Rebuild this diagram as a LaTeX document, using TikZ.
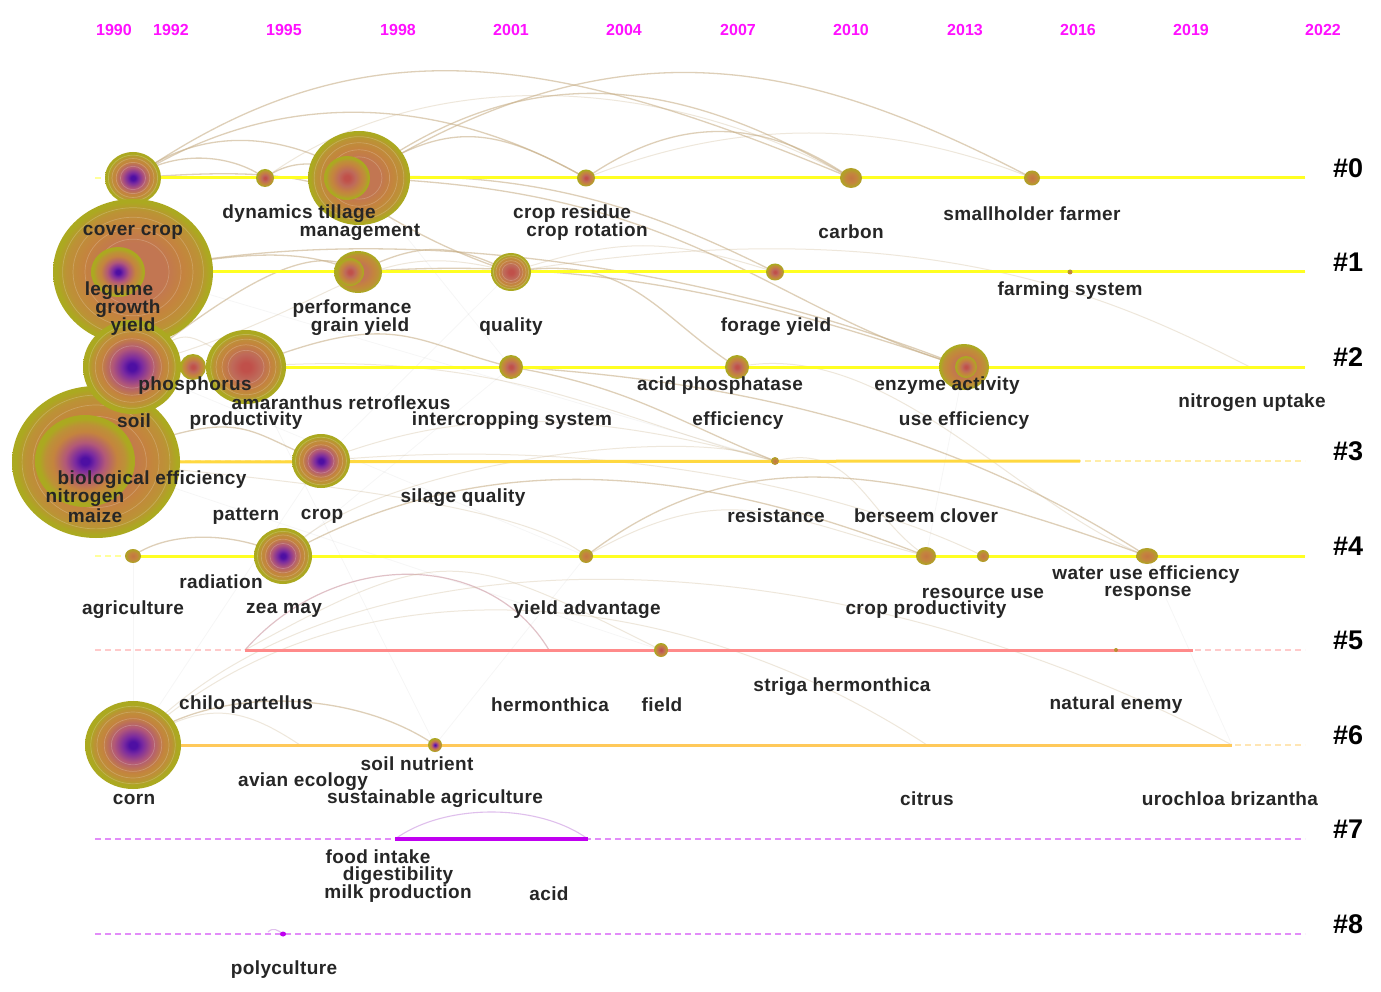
\documentclass[tikz,border=0pt]{standalone}
\usepackage{fontspec}
\setmainfont{Liberation Sans}
\newfontfamily\labfont{Liberation Sans}[LetterSpace=2]
\usetikzlibrary{shapes.geometric}
\definecolor{koli}{HTML}{ABA920}
\definecolor{kora}{HTML}{C4843E}
\definecolor{kbrn}{HTML}{BC9236}
\definecolor{kmau}{HTML}{B25878}
\definecolor{kpur}{HTML}{4E0FA3}
\definecolor{kvp}{HTML}{7A2AA0}
\definecolor{kred}{HTML}{C0504A}
\definecolor{kros}{HTML}{BF6A5A}
\definecolor{kros2}{HTML}{C27652}
\definecolor{kyel}{HTML}{FFFF22}
\definecolor{kgold}{HTML}{FFD840}
\definecolor{korg}{HTML}{FFC95A}
\definecolor{kpink}{HTML}{FF8A8A}
\definecolor{kvio}{HTML}{C000F0}
\definecolor{karc}{HTML}{C8B089}
\definecolor{kparc}{HTML}{D4A8B0}
\definecolor{kvarc}{HTML}{D8B0E8}
\definecolor{ktext}{HTML}{262626}
\definecolor{kmag}{HTML}{FF10FF}
\pgfdeclareradialshading{kwP}{\pgfpoint{0bp}{0bp}}{color(0bp)=(kpur); color(2bp)=(kpur); color(5bp)=(kvp); color(10bp)=(kmau); color(16bp)=(kora); color(20bp)=(kbrn); color(23bp)=(koli); color(25bp)=(koli); color(50bp)=(koli)}
\pgfdeclareradialshading{kwR}{\pgfpoint{0bp}{0bp}}{color(0bp)=(kred); color(3bp)=(kred); color(9bp)=(kros); color(16bp)=(kora); color(20bp)=(kbrn); color(23bp)=(koli); color(25bp)=(koli); color(50bp)=(koli)}
\pgfdeclareradialshading{kwO}{\pgfpoint{0bp}{0bp}}{color(0bp)=(kros2); color(10bp)=(kros2); color(16bp)=(kora); color(21bp)=(kbrn); color(24bp)=(koli); color(25bp)=(koli); color(50bp)=(koli)}
\pgfdeclareradialshading{kwS}{\pgfpoint{0bp}{0bp}}{color(0bp)=(kora!75!kred); color(12bp)=(kora); color(22bp)=(koli!75!kora); color(25bp)=(koli!75!kora); color(50bp)=(koli)}
\newcommand{\kwrings}[3]{\foreach \f in {0.45,0.6,0.75,0.88}{\draw[ringsty] (#1) ellipse ({\f*#2} and {\f*#3});}}
\begin{document}
\begin{tikzpicture}[x=1pt,y=-1pt,
  kn/.style={ellipse, inner sep=0pt, draw=none},
  ringsty/.style={draw=white, opacity=.2, line width=.7pt},
  lab/.style={font=\labfont\bfseries\fontsize{19}{19}\selectfont, text=ktext, inner sep=0pt, yshift=-2pt},
  yr/.style={font=\bfseries\fontsize{16}{16}\selectfont, text=kmag, inner sep=0pt},
  cl/.style={font=\bfseries\fontsize{27}{27}\selectfont, text=black, inner sep=0pt},
  arc/.style={draw=karc, opacity=.6, line width=1.3pt},
  farc/.style={draw=karc, opacity=.3, line width=1pt},
  parc/.style={draw=kparc, opacity=.7, line width=1.2pt},
  varc/.style={draw=kvarc, opacity=.8, line width=1.1pt},
  gl/.style={draw=gray, opacity=.07, line width=.8pt},
  rl/.style={line width=3pt},
  dl/.style={line width=1.2pt, dash pattern=on 6pt off 4pt, opacity=.45}]
\useasboundingbox (0,0) rectangle (1381,992);
\fill[white] (0,0) rectangle (1381,992);

% years
\foreach \x/\y in {114/1990,171/1992,284/1995,398/1998,511/2001,624/2004,738/2007,851/2010,965/2013,1078/2016,1191/2019,1323/2022}
  {\node[yr] (y\y) at (\x,30) {\y};}

% coordinates
\coordinate (r0e) at (1305,178);
\coordinate (r1e) at (1305,272);
\coordinate (r2e) at (1305,367);
\coordinate (r3e) at (1080,461);
\coordinate (r3f) at (1305,461);
\coordinate (r4s) at (95,556);
\coordinate (r4e) at (1305,556);
\coordinate (r5a) at (95,650);
\coordinate (r5s) at (245,650);
\coordinate (r5e) at (1193,650);
\coordinate (r5f) at (1305,650);
\coordinate (r6a) at (95,745);
\coordinate (r6e) at (1232,745);
\coordinate (r6f) at (1305,745);
\coordinate (r7a) at (95,839);
\coordinate (r7s) at (395,839);
\coordinate (r7e) at (588,839);
\coordinate (r7f) at (1305,839);
\coordinate (r8a) at (95,934);
\coordinate (r8f) at (1305,934);
\coordinate (r0a) at (95,178);
\coordinate (r1a) at (95,272);
\coordinate (r2a) at (95,367);
\coordinate (r3a) at (95,461);
\coordinate (c2g) at (1250,367);
\coordinate (c5x) at (549,650);
\coordinate (c6x) at (927,745);
\coordinate (c6y) at (300,745);
\coordinate (c8x) at (268,932);

% node positions
\path
 (133,178) coordinate (p0a) (265,178) coordinate (p0b) (359,178) coordinate (p0c)
 (586,178) coordinate (p0d) (851,178) coordinate (p0e) (1032,178) coordinate (p0f)
 (133,272) coordinate (p1a) (358,272) coordinate (p1b) (511,272) coordinate (p1c)
 (775,272) coordinate (p1d) (1070,272) coordinate (p1e)
 (132,367) coordinate (p2a) (193,367) coordinate (p2b) (246,367) coordinate (p2c)
 (511,367) coordinate (p2d) (737,367) coordinate (p2e) (964,367) coordinate (p2f)
 (96,462) coordinate (p3a) (321,461) coordinate (p3b) (775,461) coordinate (p3c)
 (133,556) coordinate (p4a) (283,556) coordinate (p4b) (586,556) coordinate (p4c)
 (926,556) coordinate (p4d) (983,556) coordinate (p4e) (1147,556) coordinate (p4f)
 (661,650) coordinate (p5a) (1116,650) coordinate (p5b)
 (133,745) coordinate (p6a) (435,745) coordinate (p6b)
 (283,934) coordinate (p8a);

% faint background lines
\draw[gl] (p4a) -- (p6a);
\draw[gl] (p2a) -- (p4c);
\draw[gl] (p3a) -- (p5a);
\draw[gl] (p1a) -- (p3c);
\draw[gl] (p2c) -- (p6b);
\draw[gl] (p4c) -- (p6b);
\draw[gl] (p2d) -- (p4b);
\draw[gl] (p4f) -- (r6e);
\draw[gl] (p2f) -- (p4d);
\draw[gl] (p3b) -- (p6a);
\draw[gl] (p0c) -- (p2d);
\draw[gl] (p1c) -- (p3b);

% dashed row lines
\draw[dl, draw=kyel] (r0a) -- (r0e);
\draw[dl, draw=kyel] (r1a) -- (r1e);
\draw[dl, draw=kyel] (r2a) -- (r2e);
\draw[dl, draw=kgold] (r3a) -- (r3f);
\draw[dl, draw=kyel] (r4s) -- (r4e);
\draw[dl, draw=kpink] (r5a) -- (r5f);
\draw[dl, draw=korg] (r6a) -- (r6f);
\draw[dl, draw=kvio] (r7a) -- (r7f);
\draw[dl, draw=kvio] (r8a) -- (r8f);

% arcs
\draw[arc] (p0a) .. controls +(40,-28) and +(-35,-25) .. (p0b);
\draw[arc] (p0a) .. controls +(70,-55) and +(-70,-45) .. (p0c);
\draw[arc] (p0a) .. controls +(150,-95) and +(-140,-80) .. (p0d);
\draw[arc] (p0a) .. controls +(230,-160) and +(-300,-125) .. (p0e);
\draw[arc] (p0b) .. controls +(30,-22) and +(-30,-15) .. (p0c);
\draw[arc] (p0c) .. controls +(90,-60) and +(-90,-50) .. (p0d);
\draw[arc] (p0c) .. controls +(170,-125) and +(-170,-100) .. (p0e);
\draw[arc] (p0c) .. controls +(260,-160) and +(-230,-120) .. (p0f);
\draw[arc] (p0d) .. controls +(90,-62) and +(-90,-62) .. (p0e);
\draw[farc] (p0b) .. controls +(150,-110) and +(-200,-110) .. (p0e);
\draw[farc] (p0d) .. controls +(150,-60) and +(-150,-60) .. (p0f);
\draw[arc] (p0c) .. controls +(180,-10) and +(-120,-60) .. (p1d);
\draw[arc] (p0a) .. controls +(250,-20) and +(-180,-60) .. (p1c);
\draw[arc] (p1a) .. controls +(330,-70) and +(-150,-60) .. (p2f);
\draw[arc] (p1b) .. controls +(260,-20) and +(-150,-50) .. (p2f);
\draw[arc] (p0c) .. controls +(330,10) and +(-200,-60) .. (p2f);
\draw[farc] (p1c) .. controls +(420,-70) and +(-120,-60) .. (c2g);
\draw[arc] (p2d) .. controls +(120,20) and +(-100,-40) .. (p3c);
\draw[arc] (p1c) .. controls +(120,-20) and +(-80,-50) .. (p2e);
\draw[arc] (p1a) .. controls +(110,-20) and +(-60,-25) .. (p1b);
\draw[arc] (p1b) .. controls +(60,-30) and +(-60,-30) .. (p1c);
\draw[farc] (p1c) .. controls +(110,-35) and +(-110,-35) .. (p1d);
\draw[arc] (p2c) .. controls +(150,-60) and +(-100,-25) .. (p2d);
\draw[arc] (p2a) .. controls +(80,-60) and +(-50,-40) .. (p1b);
\draw[farc] (p2a) .. controls +(220,-60) and +(-150,-40) .. (p1c);
\draw[arc] (p3a) .. controls +(150,-60) and +(-80,-30) .. (p3b);
\draw[farc] (p3b) .. controls +(120,-45) and +(-220,-60) .. (p3c);
\draw[arc] (p4b) .. controls +(230,-130) and +(-180,-70) .. (p4d);
\draw[arc] (p4c) .. controls +(150,-115) and +(-260,-95) .. (p4f);
\draw[farc] (p4c) .. controls +(140,-80) and +(-150,-40) .. (p4d);
\draw[arc] (p2d) .. controls +(340,20) and +(-110,-70) .. (p4f);
\draw[farc] (p3b) .. controls +(320,-30) and +(-100,-50) .. (p4e);
\draw[arc] (p4a) .. controls +(40,-28) and +(-40,-22) .. (p4b);
\draw[farc] (p3a) .. controls +(220,20) and +(-60,-50) .. (p4c);
\draw[farc] (p2c) .. controls +(260,-20) and +(-160,-40) .. (p3c);
\draw[farc] (p2e) .. controls +(150,-30) and +(-130,-50) .. (p4f);
\draw[farc] (p3c) .. controls +(80,-20) and +(-60,-40) .. (p4d);
\draw[farc] (p4b) .. controls +(80,-90) and +(-90,-40) .. (p3c);
\draw[farc] (p2a) .. controls +(60,-40) and +(-70,-40) .. (p2c);
% lower rows
\draw[parc] (r5s) .. controls +(90,-102) and +(-60,-100) .. (c5x);
\draw[farc] (p6a) .. controls +(200,-220) and +(-420,-222) .. (r6e);
\draw[farc] (p6a) .. controls +(200,-190) and +(-260,-170) .. (c6x);
\draw[arc] (p6a) .. controls +(80,-62) and +(-80,-55) .. (p6b);
\draw[farc] (p6a) .. controls +(70,-45) and +(-60,-40) .. (c6y);
\draw[farc] (r5s) .. controls +(200,-110) and +(-200,-100) .. (p5a);
\draw[varc] (r7s) .. controls +(50,-36) and +(-50,-36) .. (r7e);
\draw[varc] (c8x) .. controls +(5,-5) and +(-5,-4) .. (p8a);

% solid row lines
\draw[rl, draw=kyel] (p0a) -- (r0e);
\draw[rl, draw=kyel] (p1a) -- (r1e);
\draw[rl, draw=kyel] (p2a) -- (r2e);
\draw[rl, draw=kgold] (p3a) -- (r3e);
\draw[rl, draw=kyel] (p4a) -- (r4e);
\draw[rl, draw=kpink] (r5s) -- (r5e);
\draw[rl, draw=korg] (p6a) -- (r6e);
\draw[line width=4pt, draw=kvio] (r7s) -- (r7e);

% nodes: row 0
\node[kn, shading=kwP, minimum width=56pt, minimum height=52pt] (c0a) at (p0a) {};
\kwrings{c0a.center}{28}{26}
\node[kn, shading=kwR, minimum width=18pt, minimum height=18pt] (c0b) at (p0b) {};
\node[kn, shading=kwO, minimum width=102pt, minimum height=94pt] (c0c) at (p0c) {};
\kwrings{c0c.center}{51}{47}
\node[kn, shading=kwR, minimum width=46pt, minimum height=44pt] (c0ci) at (347,178) {};
\node[kn, shading=kwR, minimum width=18pt, minimum height=17pt] (c0d) at (p0d) {};
\node[kn, shading=kwS, minimum width=22pt, minimum height=20pt] (c0e) at (p0e) {};
\node[kn, shading=kwS, minimum width=16pt, minimum height=15pt] (c0f) at (p0f) {};
% row 1 and 3 big
\node[kn, shading=kwO, minimum width=160pt, minimum height=146pt] (c1a) at (p1a) {};
\kwrings{c1a.center}{80}{73}
\node[kn, shading=kwP, minimum width=54pt, minimum height=50pt] (c1ai) at (118,272) {};
\node[kn, shading=kwO, minimum width=168pt, minimum height=152pt] (c3a) at (p3a) {};
\kwrings{c3a.center}{84}{76}
\node[kn, shading=kwP, minimum width=100pt, minimum height=92pt] (c3ai) at (85,461) {};
\node[kn, shading=kwO, minimum width=48pt, minimum height=42pt] (c1b) at (p1b) {};
\node[kn, shading=kwR, minimum width=28pt, minimum height=28pt] (c1bi) at (350,272) {};
\node[kn, shading=kwR, minimum width=40pt, minimum height=38pt] (c1c) at (p1c) {};
\kwrings{c1c.center}{20}{19}
\node[kn, shading=kwR, minimum width=18pt, minimum height=17pt] (c1d) at (p1d) {};
\node[kn, shading=kwS, minimum width=5pt, minimum height=5pt] (c1e) at (p1e) {};
% row 2
\node[kn, shading=kwP, minimum width=98pt, minimum height=94pt] (c2a) at (p2a) {};
\kwrings{c2a.center}{49}{47}
\node[kn, shading=kwR, minimum width=26pt, minimum height=26pt] (c2b) at (p2b) {};
\node[kn, shading=kwR, minimum width=80pt, minimum height=74pt] (c2c) at (p2c) {};
\kwrings{c2c.center}{40}{37}
\node[kn, shading=kwR, minimum width=24pt, minimum height=24pt] (c2d) at (p2d) {};
\node[kn, shading=kwR, minimum width=24pt, minimum height=24pt] (c2e) at (p2e) {};
\node[kn, shading=kwO, minimum width=50pt, minimum height=46pt] (c2f) at (p2f) {};
\node[kn, shading=kwR, minimum width=22pt, minimum height=22pt] (c2fi) at (966,367) {};
% row 3
\node[kn, shading=kwP, minimum width=58pt, minimum height=54pt] (c3b) at (p3b) {};
\kwrings{c3b.center}{29}{27}
\node[kn, shading=kwS, minimum width=8pt, minimum height=8pt] (c3c) at (p3c) {};
% row 4
\node[kn, shading=kwS, minimum width=16pt, minimum height=14pt] (c4a) at (p4a) {};
\node[kn, shading=kwP, minimum width=58pt, minimum height=56pt] (c4b) at (p4b) {};
\kwrings{c4b.center}{29}{28}
\node[kn, shading=kwS, minimum width=14pt, minimum height=14pt] (c4c) at (p4c) {};
\node[kn, shading=kwS, minimum width=20pt, minimum height=18pt] (c4d) at (p4d) {};
\node[kn, shading=kwS, minimum width=12pt, minimum height=12pt] (c4e) at (p4e) {};
\node[kn, shading=kwS, minimum width=22pt, minimum height=16pt] (c4f) at (p4f) {};
% row 5, 6, 8
\node[kn, shading=kwR, minimum width=14pt, minimum height=14pt] (c5a) at (p5a) {};
\node[kn, shading=kwS, minimum width=4pt, minimum height=4pt] (c5b) at (p5b) {};
\node[kn, shading=kwP, minimum width=96pt, minimum height=88pt] (c6a) at (p6a) {};
\kwrings{c6a.center}{48}{44}
\node[kn, shading=kwP, minimum width=14pt, minimum height=14pt] (c6b) at (p6b) {};
\node[kn, fill=kvio, minimum width=6pt, minimum height=5pt] (c8a) at (p8a) {};

% cluster labels
\foreach \i/\y in {0/178,1/272,2/367,3/461,4/556,5/650,6/745,7/839,8/934}
  {\node[cl] (k\i) at (1348,\y-10) {\#\i};}

% keyword labels
\node[lab] (l01) at (133,230) {cover crop};
\node[lab] (l02) at (299,212) {dynamics tillage};
\node[lab] (l03) at (360,230) {management};
\node[lab] (l04) at (572,212) {crop residue};
\node[lab] (l05) at (587,230) {crop rotation};
\node[lab] (l06) at (851,230) {carbon};
\node[lab] (l07) at (1032,212) {smallholder farmer};
\node[lab] (l08) at (119,289) {legume};
\node[lab] (l09) at (128,307) {growth};
\node[lab] (l10) at (133,325) {yield};
\node[lab] (l11) at (352,307) {performance};
\node[lab] (l12) at (360,325) {grain yield};
\node[lab] (l13) at (511,325) {quality};
\node[lab] (l14) at (776,325) {forage yield};
\node[lab] (l15) at (1070,289) {farming system};
\node[lab] (l16) at (195,384) {phosphorus};
\node[lab] (l17) at (720,384) {acid phosphatase};
\node[lab] (l18) at (947,384) {enzyme activity};
\node[lab] (l19) at (341,401) {amaranthus retroflexus};
\node[lab] (l20) at (1252,401) {nitrogen uptake};
\node[lab] (l21) at (134,419) {soil};
\node[lab] (l22) at (246,419) {productivity};
\node[lab] (l23) at (512,419) {intercropping system};
\node[lab] (l24) at (738,419) {efficiency};
\node[lab] (l25) at (964,419) {use efficiency};
\node[lab] (l26) at (152,478) {biological efficiency};
\node[lab] (l27) at (85,496) {nitrogen};
\node[lab] (l28) at (463,496) {silage quality};
\node[lab] (l29) at (95,514) {maize};
\node[lab] (l30) at (246,514) {pattern};
\node[lab] (l31) at (322,514) {crop};
\node[lab] (l32) at (776,514) {resistance};
\node[lab] (l33) at (926,514) {berseem clover};
\node[lab] (l34) at (221,580) {radiation};
\node[lab] (l35) at (1146,573) {water use efficiency};
\node[lab] (l36) at (983,591) {resource use};
\node[lab] (l37) at (1148,591) {response};
\node[lab] (l38) at (133,608) {agriculture};
\node[lab] (l39) at (284,608) {zea may};
\node[lab] (l40) at (587,608) {yield advantage};
\node[lab] (l41) at (926,608) {crop productivity};
\node[lab] (l42) at (842,685) {striga hermonthica};
\node[lab] (l43) at (246,703) {chilo partellus};
\node[lab] (l44) at (550,703) {hermonthica};
\node[lab] (l45) at (662,703) {field};
\node[lab] (l46) at (1116,703) {natural enemy};
\node[lab] (l47) at (417,762) {soil nutrient};
\node[lab] (l48) at (303,780) {avian ecology};
\node[lab] (l49) at (134,797) {corn};
\node[lab] (l50) at (435,797) {sustainable agriculture};
\node[lab] (l51) at (927,797) {citrus};
\node[lab] (l52) at (1230,797) {urochloa brizantha};
\node[lab] (l53) at (378,855) {food intake};
\node[lab] (l54) at (398,874) {digestibility};
\node[lab] (l55) at (398,892) {milk production};
\node[lab] (l56) at (549,892) {acid};
\node[lab] (l57) at (284,968) {polyculture};
\end{tikzpicture}
\end{document}
